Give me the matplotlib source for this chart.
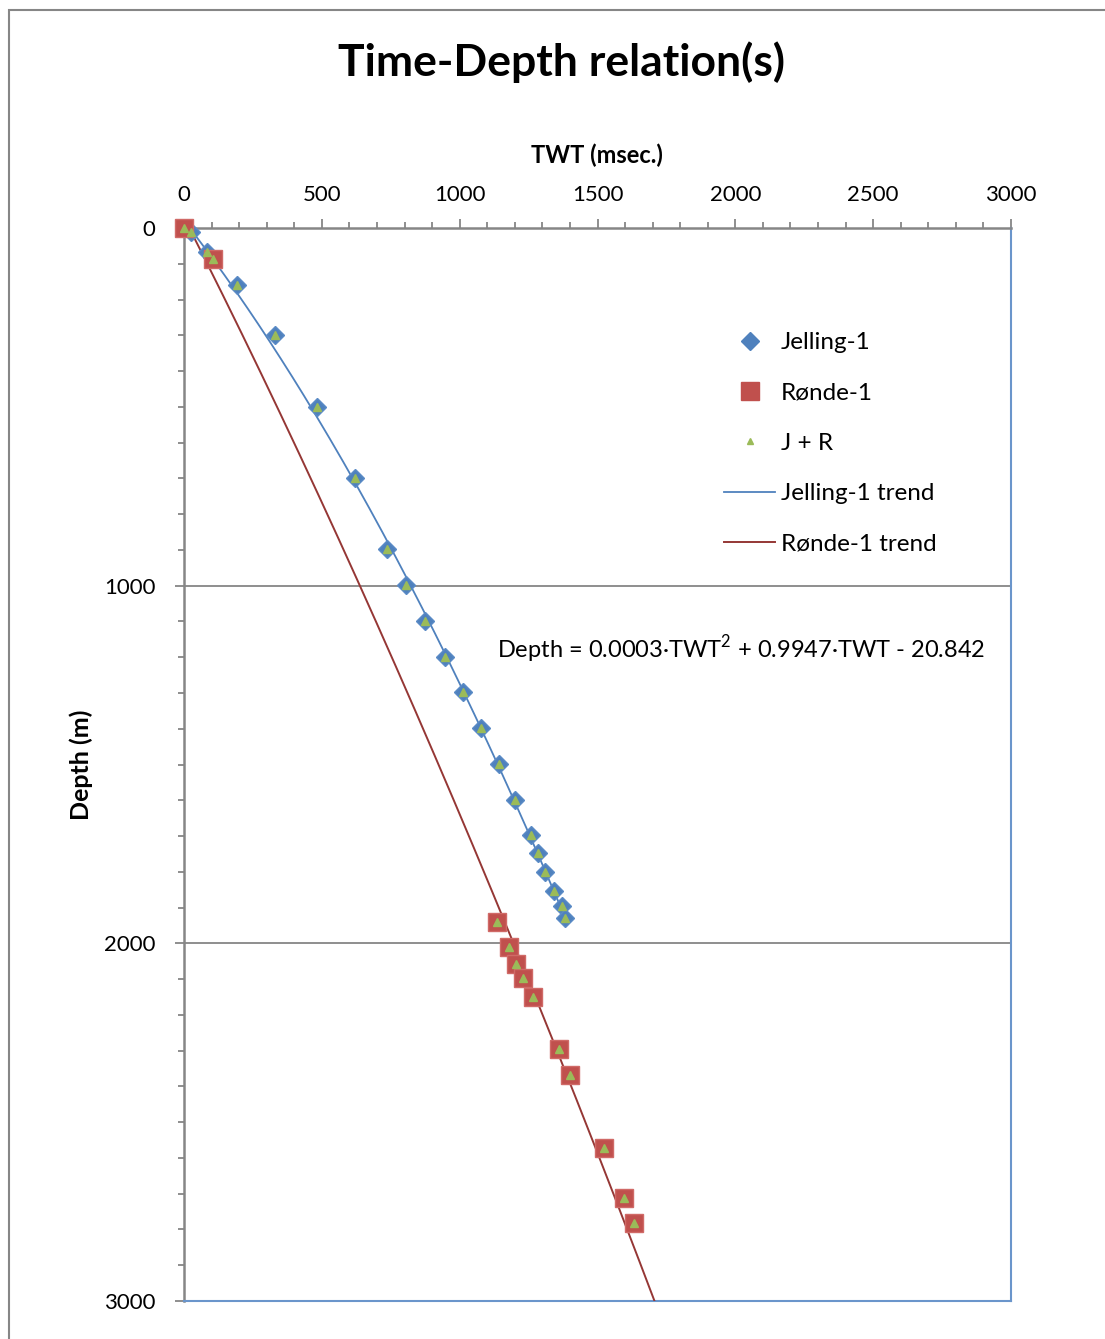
import numpy as np
import matplotlib
matplotlib.use("Agg")
import matplotlib.pyplot as plt
from matplotlib.patches import Rectangle
from matplotlib.lines import Line2D

plt.rcParams['font.family'] = ['Lato', 'DejaVu Sans']
plt.rcParams['mathtext.fontset'] = 'custom'
plt.rcParams['mathtext.rm'] = 'Lato'

# well data: two way time (msec) and depth (m)
jelling_twt = [24, 82, 191, 330, 482, 620, 736, 805, 874, 946, 1011, 1077,
               1142, 1200, 1258, 1283, 1311, 1341, 1371, 1383]
jelling_depth = [12, 66, 159, 299, 500, 699, 897, 998, 1099, 1199, 1297, 1398,
                 1499, 1599, 1697, 1747, 1801, 1853, 1895, 1930]

ronde_twt = [0, 104, 1135, 1179, 1205, 1231, 1267, 1360, 1399, 1524, 1597, 1632]
ronde_depth = [0, 87, 1941, 2009, 2059, 2096, 2151, 2296, 2369, 2571, 2713, 2783]

# polynomial trend coefficients (highest power first)
jel_coef = [0.0003, 0.9947, -20.842]
ronde_coef = [1.51e-4, 1.517, -29.2]

blue = '#4F81BD'
red = '#C0504D'
green = '#9BBB59'
dark_red = '#953735'
grey = '#868686'

W, H = 1105, 1339
fig = plt.figure(figsize=(W / 100, H / 100), dpi=100)
ax = fig.add_axes([184 / W, 1 - 1301 / H, 827 / W, 1073 / H])

# trend lines
t = np.linspace(jelling_twt[0], jelling_twt[-1], 200)
ax.plot(t, np.polyval(jel_coef, t), color=blue, lw=1.3, zorder=3)
t2 = np.linspace(0, 1900, 300)
ax.plot(t2, np.polyval(ronde_coef, t2), color=dark_red, lw=1.4, zorder=3)

ax.plot(jelling_twt, jelling_depth, 'D', ms=9.5, color=blue, mec='#5B8BC6',
        zorder=4, clip_on=False)
ax.plot(ronde_twt, ronde_depth, 's', ms=13.5, color=red, mec='#D06A67',
        zorder=5, clip_on=False)
ax.plot(jelling_twt + ronde_twt, jelling_depth + ronde_depth, '^', ms=5.5,
        color=green, mec=green, zorder=6, clip_on=False)

ax.set_xlim(0, 3000)
ax.set_ylim(3000, 0)
ax.xaxis.tick_top()
ax.xaxis.set_label_position('top')
ax.set_xticks(np.arange(0, 3001, 500))
ax.set_xticks(np.arange(0, 3001, 100), minor=True)
ax.set_yticks(np.arange(0, 3001, 1000))
ax.set_yticks(np.arange(0, 3001, 100), minor=True)
ax.tick_params(axis='both', which='major', labelsize=16, color=grey, width=1.3,
               length=6.5)
ax.tick_params(axis='both', which='minor', color=grey, width=1.3, length=4)
ax.tick_params(axis='x', pad=10)
ax.tick_params(axis='y', pad=14)
ax.yaxis.grid(True, which='major', color=grey, lw=1.3)
ax.set_axisbelow(True)

for s in ['top', 'left']:
    ax.spines[s].set_color(grey)
    ax.spines[s].set_linewidth(1.8)
for s in ['right', 'bottom']:
    ax.spines[s].set_color('#6A95CB')
    ax.spines[s].set_linewidth(1.5)

ax.set_xlabel('TWT (msec.)', fontsize=17, fontweight='bold')
ax.set_ylabel('Depth (m)', fontsize=18, fontweight='bold')
ax.xaxis.set_label_coords(0.4994, 1.0606)
ax.yaxis.set_label_coords(-0.110, 0.5)

fig.text(562 / W, 1 - 62 / H, 'Time-Depth relation(s)', fontsize=32,
         fontweight='bold', ha='center', va='center')

ax.text(1135, (649 - 228) / 1073 * 3000,
        'Depth = 0.0003\u00b7TWT$^{\\mathrm{2}}$ + 0.9947\u00b7TWT - 20.842',
        fontsize=17, ha='left', va='center')

handles = [
    Line2D([], [], ls='none', marker='D', ms=9.5, color=blue),
    Line2D([], [], ls='none', marker='s', ms=13.5, color=red),
    Line2D([], [], ls='none', marker='^', ms=5, color=green),
    Line2D([], [], color=blue, lw=1.3),
    Line2D([], [], color=dark_red, lw=1.4),
]
labels = ['Jelling-1', 'R\u00f8nde-1', 'J + R', 'Jelling-1 trend', 'R\u00f8nde-1 trend']
fig.legend(handles, labels, loc='upper left',
           bbox_to_anchor=(724 / W, 1 - 332 / H), frameon=False, fontsize=17.5,
           handlelength=2.1, handletextpad=0.25, labelspacing=1.21,
           borderaxespad=0, borderpad=0)

# outer chart border
fig.patches.append(Rectangle((9 / W, -0.05), 1.1, 1 - 10 / H + 0.05,
                             transform=fig.transFigure, fill=False,
                             ec=grey, lw=1.5))

fig.savefig('out.png', dpi=100)
